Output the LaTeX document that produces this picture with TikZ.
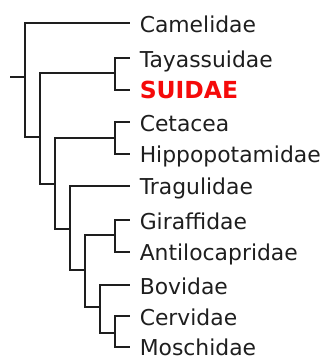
\documentclass[tikz,border=0pt]{standalone}
\usepackage{fontspec}
\setmainfont{DejaVu Sans}
\definecolor{branch}{RGB}{30,30,30}
\definecolor{suired}{RGB}{245,10,10}
\begin{document}
\begin{tikzpicture}[x=0.75pt,y=-0.75pt,
  br/.style={draw=branch,line width=1.6pt,line join=miter},
  taxon/.style={anchor=base west,inner sep=0pt,text=branch,font=\fontsize{16.4pt}{19pt}\selectfont},
  hilite/.style={anchor=base west,inner sep=0pt,text=suired,font=\fontsize{17.6pt}{20pt}\selectfont\bfseries}]
\useasboundingbox (0,0) rectangle (328,359);
% tips
\coordinate (tcam) at (130,23.3);
\coordinate (ttay) at (130,58.3);
\coordinate (tsui) at (130,90);
\coordinate (tcet) at (130,122.3);
\coordinate (thip) at (130,154);
\coordinate (ttra) at (130,185.7);
\coordinate (tgir) at (130,220);
\coordinate (tant) at (130,251.7);
\coordinate (tbov) at (130,285);
\coordinate (tcer) at (130,316);
\coordinate (tmos) at (130,346.7);
% internal nodes
\coordinate (stub) at (10,76.7);
\coordinate (R) at (25,76.7);
\coordinate (A) at (40,137.3);
\coordinate (T1) at (115,72.7);
\coordinate (B) at (55,184);
\coordinate (C1) at (115,138.3);
\coordinate (Cn) at (70,229.3);
\coordinate (D) at (85,270);
\coordinate (G1) at (115,235);
\coordinate (E) at (100,306.7);
\coordinate (F1) at (115,333.3);
% branches
\draw[br] (stub) -- (R);
\draw[br] (R) |- (tcam);
\draw[br] (R) |- (A);
\draw[br] (A) |- (T1);
\draw[br] (A) |- (B);
\draw[br] (T1) |- (ttay);
\draw[br] (T1) |- (tsui);
\draw[br] (B) |- (C1);
\draw[br] (B) |- (Cn);
\draw[br] (C1) |- (tcet);
\draw[br] (C1) |- (thip);
\draw[br] (Cn) |- (ttra);
\draw[br] (Cn) |- (D);
\draw[br] (D) |- (G1);
\draw[br] (D) |- (E);
\draw[br] (G1) |- (tgir);
\draw[br] (G1) |- (tant);
\draw[br] (E) |- (tbov);
\draw[br] (E) |- (F1);
\draw[br] (F1) |- (tcer);
\draw[br] (F1) |- (tmos);
% labels
\node[taxon] (lcam) at (139.5,32.3) {Camelidae};
\node[taxon] (ltay) at (139.5,67.3) {Tayassuidae};
\node[hilite] (lsui) at (139.5,99) {SUIDAE};
\node[taxon] (lcet) at (139.5,131.3) {Cetacea};
\node[taxon] (lhip) at (139.5,163) {Hippopotamidae};
\node[taxon] (ltra) at (139.5,194.7) {Tragulidae};
\node[taxon] (lgir) at (139.5,229) {Giraffidae};
\node[taxon] (lant) at (139.5,260.7) {Antilocapridae};
\node[taxon] (lbov) at (139.5,294) {Bovidae};
\node[taxon] (lcer) at (139.5,325) {Cervidae};
\node[taxon] (lmos) at (139.5,355.7) {Moschidae};
\end{tikzpicture}
\end{document}
